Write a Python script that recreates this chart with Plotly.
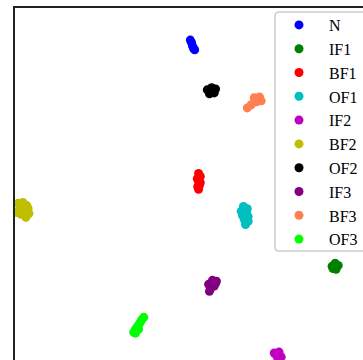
import plotly.graph_objects as go

# Embedding coordinates of each fault class (2-D projection)
labels = ["N", "IF1", "BF1", "OF1", "IF2", "BF2", "OF2", "IF3", "BF3", "OF3"]
colors = ["#0000ff", "#008000", "#ff0000", "#00bfbf", "#bf00bf",
          "#bfbf00", "#000000", "#800080", "#ff7f50", "#00ff00"]

N_x = [0.3, 0.6, 0.8, 1.0, 1.3]
N_y = [32.7, 32.1, 31.4, 30.9, 30.5]

IF1_x = [32.9, 33.6, 34.3, 33.8, 33.1]
IF1_y = [-18.7, -18.0, -18.5, -19.4, -19.2]

BF1_x = [2.2, 2.4, 2.2, 2.4, 2.2, 2.6, 1.9, 2.6, 2.0]
BF1_y = [2.4, 1.5, 0.6, -0.3, -1.2, 0.3, 1.2, 1.7, -0.6]

OF1_x = [12.5, 13.4, 12.0, 13.2, 12.3, 13.6, 12.7, 13.6, 13.0, 12.7]
OF1_y = [-5.1, -5.6, -6.2, -6.5, -7.1, -7.4, -8.0, -8.5, -9.2, -6.5]

IF2_x = [19.6, 20.7, 20.3, 21.2, 20.1]
IF2_y = [-38.4, -38.2, -39.3, -39.3, -38.9]

BF2_x = [-39.3, -38.2, -37.3, -38.9, -37.7, -36.8, -38.6, -37.5, -39.5, -37.0]
BF2_y = [-4.4, -4.2, -4.9, -5.6, -6.0, -6.7, -6.9, -7.6, -6.5, -5.5]

OF2_x = [4.2, 5.2, 6.1, 4.7, 5.8, 5.4]
OF2_y = [21.4, 21.9, 21.6, 20.5, 20.7, 21.2]

IF3_x = [5.4, 6.3, 4.5, 5.8, 4.9, 4.7, 6.1, 5.2]
IF3_y = [-21.9, -22.1, -22.8, -23.2, -23.9, -24.4, -22.6, -23.0]

BF3_x = [15.0, 16.2, 16.6, 15.5, 14.3, 13.4, 15.9]
BF3_y = [19.6, 19.8, 18.9, 18.7, 18.0, 17.3, 19.2]

OF3_x = [-10.4, -10.9, -11.3, -11.8, -12.3, -12.7, -12.3, -11.6]
OF3_y = [-30.3, -30.9, -31.6, -32.3, -33.0, -33.7, -33.9, -33.0]

xs = [N_x, IF1_x, BF1_x, OF1_x, IF2_x, BF2_x, OF2_x, IF3_x, BF3_x, OF3_x]
ys = [N_y, IF1_y, BF1_y, OF1_y, IF2_y, BF2_y, OF2_y, IF3_y, BF3_y, OF3_y]

W, H = 363, 360
ML, MT = 15, 8

fig = go.Figure()
for name, c, x, y in zip(labels, colors, xs, ys):
    fig.add_trace(go.Scatter(
        x=x, y=y, mode="markers", name=name,
        marker=dict(color=c, size=9, line=dict(width=0)),
        cliponaxis=False,
    ))


def px_to_paper(px, py):
    return (px - ML) / (W - ML), (H - py) / (H - MT)


# legend frame with rounded corners, running off the right edge
fx0, fy0 = px_to_paper(275, 251)
fx1, fy1 = px_to_paper(390, 12)
rx, ry = 4 / (W - ML), 4 / (H - MT)
frame = (f"M {fx0 + rx},{fy1} L {fx1},{fy1} L {fx1},{fy0} L {fx0 + rx},{fy0} "
         f"Q {fx0},{fy0} {fx0},{fy0 + ry} L {fx0},{fy1 - ry} "
         f"Q {fx0},{fy1} {fx0 + rx},{fy1} Z")

fig.update_layout(
    width=W, height=H,
    margin=dict(l=ML, t=MT, r=0, b=0, autoexpand=False),
    paper_bgcolor="white", plot_bgcolor="white",
    font=dict(family="Liberation Serif", size=16, color="black"),
    xaxis=dict(range=[-40, 40], side="top", showline=True, linecolor="#222",
               linewidth=2, showgrid=False, zeroline=False, showticklabels=False,
               ticks=""),
    yaxis=dict(range=[-40, 40], showline=True, linecolor="#222", linewidth=2,
               showgrid=False, zeroline=False, showticklabels=False, ticks=""),
    shapes=[dict(type="path", path=frame, xref="paper", yref="paper",
                 fillcolor="white", line=dict(color="#cccccc", width=1.5),
                 layer="above")],
    legend=dict(
        xref="container", yref="container", x=269 / W, y=1 - 8 / H,
        xanchor="left", yanchor="top",
        bgcolor="rgba(0,0,0,0)", borderwidth=0,
        font=dict(family="Liberation Serif", size=16, color="black"),
        itemwidth=50, maxheight=340,
    ),
    showlegend=True,
)

fig.write_html("out.html")
